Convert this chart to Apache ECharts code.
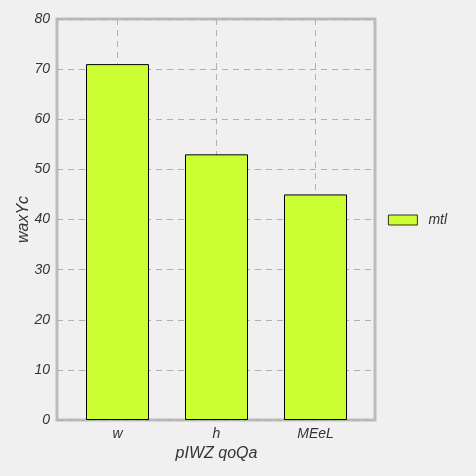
<!DOCTYPE html>
<html>
<head>
<meta charset="utf-8">
<script src="https://cdn.jsdelivr.net/npm/echarts@6/dist/echarts.min.js"></script>
<style>
html,body{margin:0;padding:0;background:#f0f0f0;}
#main{width:476px;height:476px;}
</style>
</head>
<body>
<div id="main"></div>
<script>
// data
var categories = ['w', 'h', 'MEeL'];
var values = [71, 53, 45];
var seriesName = 'mtl';
var yTicks = [0, 10, 20, 30, 40, 50, 60, 70, 80];

// helper axis: 7 points so the odd ones sit at category centres
var gridPos = ['0', '1', '2', '3', '4', '5', '6'];

var txt = {color: '#333', fontStyle: 'italic', fontFamily: 'Liberation Sans'};
var dash = {color: '#b0b0b0', type: [6, 5], width: 1};

var myChart = echarts.init(document.getElementById('main'));
myChart.setOption({
    backgroundColor: '#f0f0f0',
    animation: false,
    grid: [{
        // frame + y axis
        left: 57, right: 101, top: 19, bottom: 56,
        show: true,
        backgroundColor: 'transparent',
        borderColor: '#bbbbbb',
        borderWidth: 3
    }, {
        // bars, a bit narrower than the frame
        left: 68, right: 111, top: 19, bottom: 56
    }],
    legend: {
        data: [seriesName],
        orient: 'vertical',
        left: 383, top: 208,
        icon: 'rect',
        itemWidth: 29, itemHeight: 10,
        itemStyle: {borderColor: '#000', borderWidth: 0.8},
        textStyle: {color: '#333', fontStyle: 'italic', fontFamily: 'Liberation Sans', fontSize: 14, padding: [0, 0, 0, 6]}
    },
    xAxis: [{
        gridIndex: 0,
        type: 'value',
        show: false,
        min: 0, max: 1,
        splitLine: {show: false}
    }, {
        gridIndex: 1,
        type: 'category',
        data: categories,
        name: 'pIWZ qoQa',
        nameLocation: 'middle',
        nameGap: 26,
        nameTextStyle: Object.assign({fontSize: 16}, txt),
        axisLine: {show: false},
        axisTick: {show: false},
        axisLabel: Object.assign({fontSize: 14, margin: 7}, txt),
        splitLine: {show: false}
    }, {
        gridIndex: 1,
        type: 'category',
        data: gridPos,
        boundaryGap: false,
        axisLine: {show: false},
        axisTick: {show: false},
        axisLabel: {show: false},
        splitLine: {
            show: true,
            interval: function (index) { return index % 2 === 1; },
            lineStyle: dash
        }
    }],
    yAxis: [{
        gridIndex: 0,
        type: 'value',
        min: yTicks[0], max: yTicks[yTicks.length - 1], interval: 10,
        name: 'waxYc',
        nameLocation: 'middle',
        nameGap: 25,
        nameMoveOverlap: false,
        nameTextStyle: Object.assign({fontSize: 16}, txt),
        axisLine: {show: false},
        axisTick: {show: false},
        axisLabel: Object.assign({fontSize: 14, margin: 7}, txt),
        splitLine: {lineStyle: dash}
    }, {
        gridIndex: 1,
        type: 'value',
        min: yTicks[0], max: yTicks[yTicks.length - 1], interval: 10,
        show: false,
        splitLine: {show: false}
    }],
    series: [{
        name: seriesName,
        type: 'bar',
        xAxisIndex: 1,
        yAxisIndex: 1,
        data: values,
        barWidth: 63,
        itemStyle: {color: '#ccff33', borderColor: '#000', borderWidth: 1}
    }]
});
</script>
</body>
</html>
